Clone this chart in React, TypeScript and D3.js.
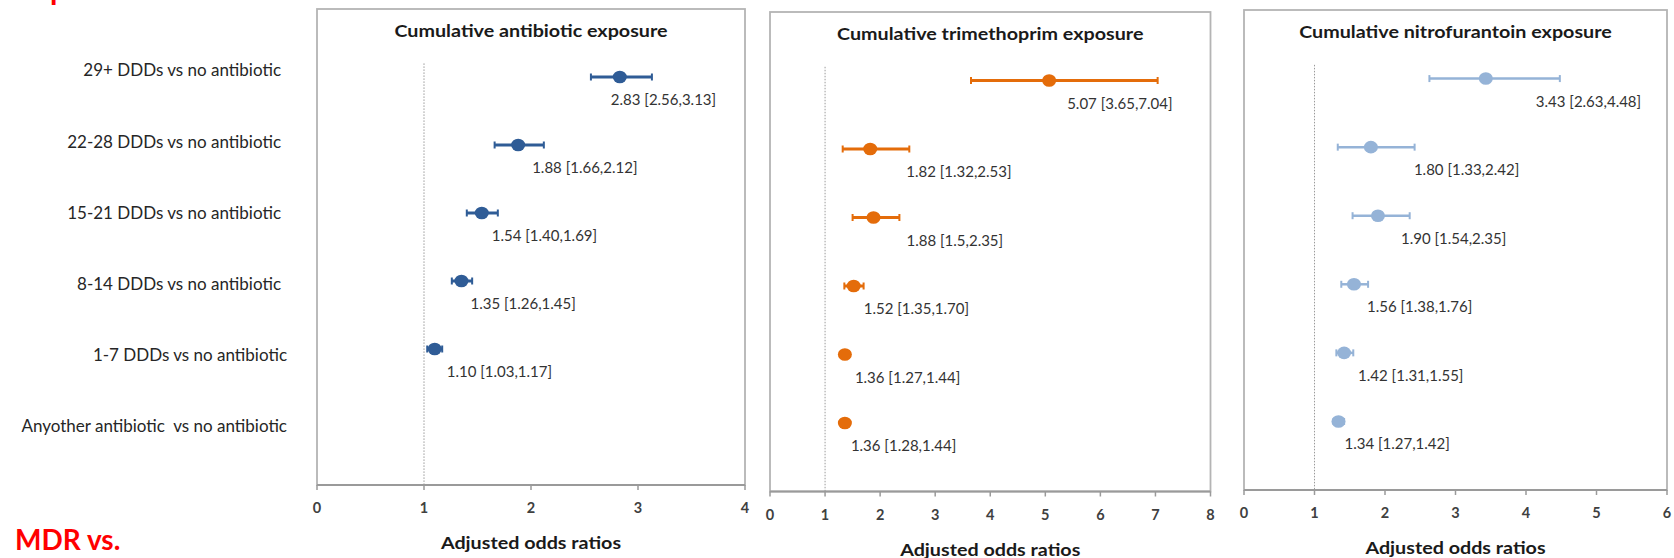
import React from "react";
import * as d3 from "d3";

// ---------- data ----------
const categories = [
  "29+ DDDs vs no antibiotic",
  "22-28 DDDs vs no antibiotic",
  "15-21 DDDs vs no antibiotic",
  "8-14 DDDs vs no antibiotic",
  "1-7 DDDs vs no antibiotic",
  "Anyother antibiotic  vs no antibiotic",
];

const antibioticOR = [2.83, 1.88, 1.54, 1.35, 1.1];
const antibioticLo = [2.56, 1.66, 1.4, 1.26, 1.03];
const antibioticHi = [3.13, 2.12, 1.69, 1.45, 1.17];
const antibioticLabels = [
  "2.83 [2.56,3.13]",
  "1.88 [1.66,2.12]",
  "1.54 [1.40,1.69]",
  "1.35 [1.26,1.45]",
  "1.10 [1.03,1.17]",
];

const trimethoprimOR = [5.07, 1.82, 1.88, 1.52, 1.36, 1.36];
const trimethoprimLo = [3.65, 1.32, 1.5, 1.35, 1.27, 1.28];
const trimethoprimHi = [7.04, 2.53, 2.35, 1.7, 1.44, 1.44];
const trimethoprimLabels = [
  "5.07 [3.65,7.04]",
  "1.82 [1.32,2.53]",
  "1.88 [1.5,2.35]",
  "1.52 [1.35,1.70]",
  "1.36 [1.27,1.44]",
  "1.36 [1.28,1.44]",
];

const nitrofurantoinOR = [3.43, 1.8, 1.9, 1.56, 1.42, 1.34];
const nitrofurantoinLo = [2.63, 1.33, 1.54, 1.38, 1.31, 1.27];
const nitrofurantoinHi = [4.48, 2.42, 2.35, 1.76, 1.55, 1.42];
const nitrofurantoinLabels = [
  "3.43 [2.63,4.48]",
  "1.80 [1.33,2.42]",
  "1.90 [1.54,2.35]",
  "1.56 [1.38,1.76]",
  "1.42 [1.31,1.55]",
  "1.34 [1.27,1.42]",
];

const antibioticTicks = [0, 1, 2, 3, 4];
const trimethoprimTicks = [0, 1, 2, 3, 4, 5, 6, 7, 8];
const nitrofurantoinTicks = [0, 1, 2, 3, 4, 5, 6];

const panelTitles = [
  "Cumulative antibiotic exposure",
  "Cumulative trimethoprim exposure",
  "Cumulative nitrofurantoin exposure",
];
const axisTitle = "Adjusted odds ratios";
const referenceOR = 1;

// ---------- layout ----------
const W = 1674;
const H = 558;
const FONT = "Lato, 'Open Sans', sans-serif";
const BOLD_SX = 1.16; // horizontal stretch of the bold headings

const panels = [
  {
    title: panelTitles[0], or: antibioticOR, lo: antibioticLo, hi: antibioticHi,
    labels: antibioticLabels, ticks: antibioticTicks,
    x0: 317, x1: 745, top: 9, bottom: 485, color: "#2F5C96",
    lw: 3, labelDx: [-9, 14, 10, 9, 12],
  },
  {
    title: panelTitles[1], or: trimethoprimOR, lo: trimethoprimLo, hi: trimethoprimHi,
    labels: trimethoprimLabels, ticks: trimethoprimTicks,
    x0: 770, x1: 1210.5, top: 12, bottom: 491.5, color: "#E46C0A",
    lw: 3, labelDx: [18, 36, 33, 10, 10, 6],
  },
  {
    title: panelTitles[2], or: nitrofurantoinOR, lo: nitrofurantoinLo, hi: nitrofurantoinHi,
    labels: nitrofurantoinLabels, ticks: nitrofurantoinTicks,
    x0: 1244, x1: 1667, top: 10, bottom: 490, color: "#95B3D7",
    lw: 2.5, labelDx: [50, 43, 23, 13, 14, 6],
  },
];

function SText({ x, y, sx = 1, anchor = "start", size, weight = "normal", fill, children }: any) {
  return (
    <text transform={`translate(${x},${y}) scale(${sx},1)`} textAnchor={anchor}
      fontFamily={FONT} fontSize={size} fontWeight={weight} fill={fill}
      style={{ whiteSpace: "pre" }}>{children}</text>
  );
}

function Panel({ p }: { p: any }) {
  const xMax = p.ticks[p.ticks.length - 1];
  const x = d3.scaleLinear().domain([0, xMax]).range([p.x0, p.x1]);
  const y = d3.scaleLinear().domain([0, 7]).range([p.bottom, p.top]);
  const rowValue = (i: number) => categories.length - i;
  const cx = (p.x0 + p.x1) / 2;
  return (
    <g>
      <rect x={p.x0} y={p.top} width={p.x1 - p.x0} height={p.bottom - p.top}
        fill="#fff" stroke="#B4B4B4" strokeWidth={1.8} />
      <SText x={cx} y={p.top + 28} sx={BOLD_SX} anchor="middle" size={17} weight="bold" fill="#1a1a1a">{p.title}</SText>
      <line x1={x(referenceOR)} x2={x(referenceOR)} y1={y(6.2)} y2={y(0)}
        stroke="#9a9a9a" strokeWidth={1} strokeDasharray="1.5,1.5" />
      <line x1={p.x0} x2={p.x1} y1={p.bottom} y2={p.bottom} stroke="#9a9a9a" strokeWidth={1.8} />
      {p.ticks.map((t: number) => (
        <g key={t}>
          <line x1={x(t)} x2={x(t)} y1={p.bottom} y2={p.bottom + 5} stroke="#9a9a9a" strokeWidth={1.5} />
          <SText x={x(t)} y={p.bottom + 28} anchor="middle" size={14.5} weight="bold" fill="#404040">{t}</SText>
        </g>
      ))}
      <SText x={cx} y={p.bottom + 64} sx={BOLD_SX} anchor="middle" size={17} weight="bold" fill="#1a1a1a">{axisTitle}</SText>
      {p.or.map((v: number, i: number) => {
        const yy = y(rowValue(i));
        return (
          <g key={i}>
            <line x1={x(p.lo[i])} x2={x(p.hi[i])} y1={yy} y2={yy} stroke={p.color} strokeWidth={p.lw} />
            <line x1={x(p.lo[i])} x2={x(p.lo[i])} y1={yy - 3.5} y2={yy + 3.5} stroke={p.color} strokeWidth={2} />
            <line x1={x(p.hi[i])} x2={x(p.hi[i])} y1={yy - 3.5} y2={yy + 3.5} stroke={p.color} strokeWidth={2} />
            <ellipse cx={x(v)} cy={yy} rx={7} ry={6.3} fill={p.color} />
            <SText x={x(v) + p.labelDx[i]} y={yy + 28} size={15} fill="#333">{p.labels[i]}</SText>
          </g>
        );
      })}
    </g>
  );
}

export default function App() {
  // the category captions sit on their own evenly spaced column
  const labelY = d3.scalePoint().domain(categories).range([70.4, 426.4]);
  return (
    <svg width={W} height={H} style={{ position: "absolute", left: 0, top: 0, background: "#fff" }}>
      <rect x={0} y={0} width={W} height={H} fill="#fff" />
      <SText x={50} y={0} size={30} weight="bold" fill="#FF0000">p</SText>
      {categories.map((c, i) => (
        <SText key={c} x={i >= 4 ? 287 : 281} y={(labelY(c) as number) + 6} anchor="end" size={17} fill="#262626">{c}</SText>
      ))}
      {panels.map((p, k) => <Panel key={k} p={p} />)}
      <SText x={15} y={550} size={28} weight="bold" fill="#FF0000">MDR vs.</SText>
    </svg>
  );
}
